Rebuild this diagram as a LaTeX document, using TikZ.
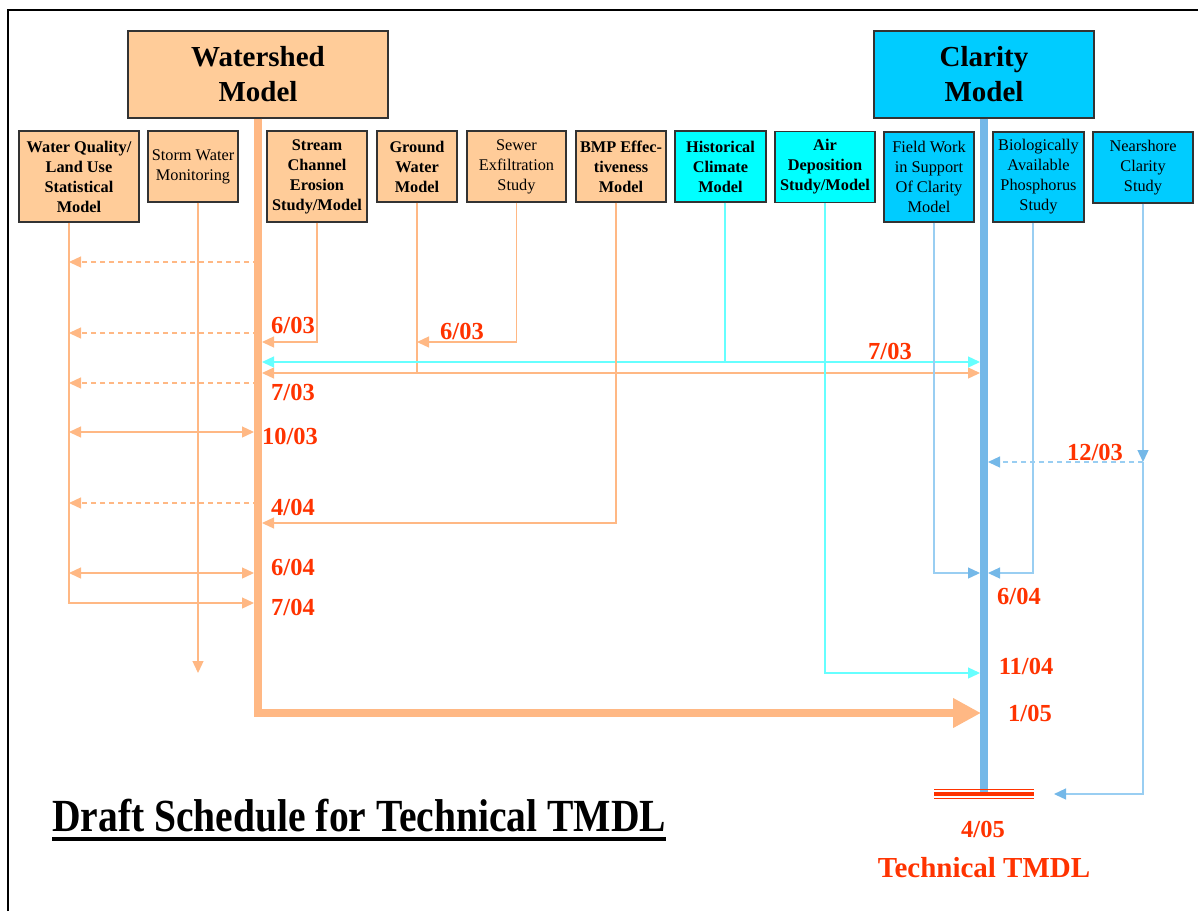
\documentclass[tikz,border=0pt]{standalone}
\usepackage{fontspec}
\setmainfont{Liberation Serif}
\newfontfamily\titlefont[FakeStretch=0.86]{Liberation Serif}
\usepackage{tikz}
\usetikzlibrary{arrows.meta}
\definecolor{peach}{RGB}{255,204,153}
\definecolor{skyblue}{RGB}{0,204,255}
\definecolor{aqua}{RGB}{0,255,255}
\definecolor{oline}{RGB}{255,184,132}
\definecolor{cline}{RGB}{102,255,255}
\definecolor{bline}{RGB}{153,206,242}
\definecolor{bbar}{RGB}{116,184,232}
\definecolor{datered}{RGB}{255,51,0}

\begin{document}
\begin{tikzpicture}[x=1pt, y=-1pt,
    every node/.style = {align=center, inner sep=0pt},
    box/.style = {draw=black!80, line width=1.3pt, font=\fontsize{16.3}{20}\selectfont},
    boldbox/.style = {box, font=\bfseries\fontsize{16.3}{20}\selectfont},
    bigbox/.style = {draw=black!80, line width=1.3pt, minimum height=87pt,
    font=\bfseries\fontsize{29}{35}\selectfont},
    peachbox/.style = {fill=peach}, cyanbox/.style = {fill=aqua},
    bluebox/.style = {fill=skyblue},
    date/.style = {text=datered, font=\bfseries\fontsize{24.5}{28}\selectfont},
    othin/.style = {draw=oline, line width=1.3pt},
    cthin/.style = {draw=cline, line width=1.3pt},
    bthin/.style = {draw=bline, line width=1.3pt},
    dashline/.style = {dash pattern=on 5pt off 4pt},
    tip/.style = {-{Triangle[length=12pt,width=11pt]}},
    btip/.style = {-{Triangle[length=12pt,width=11pt,color=bbar]}},
    dtip/.style = {{Triangle[length=12pt,width=11pt]}-{Triangle[length=12pt,width=11pt]}}]
  \useasboundingbox (0,0) rectangle (1198,911);
  \draw[line width=2.5pt] (8,911) |- (1198,10);

  \node[bigbox, peachbox, minimum width=260pt] (ws) at (258,74.5) {Watershed\\Model};
  \node[bigbox, bluebox, minimum width=220pt] (cl) at (984,74.5) {Clarity\\Model};

  \node[boldbox, peachbox, minimum width=120pt, minimum height=91pt] (wq) at (79,176.5) {Water Quality/\\Land Use\\Statistical\\Model};
  \node[box, peachbox, minimum width=90pt, minimum height=71pt] (storm) at (193,166.5) {Storm Water\\Monitoring};
  \node[boldbox, peachbox, minimum width=100pt, minimum height=91pt] (stream) at (317,176.5) {Stream\\Channel\\Erosion\\Study/Model};
  \node[boldbox, peachbox, minimum width=80pt, minimum height=71pt] (gw) at (417,166.5) {Ground\\Water\\Model};
  \node[box, peachbox, minimum width=99pt, minimum height=71pt] (sewer) at (516.5,166.5) {Sewer\\Exfiltration\\Study};
  \node[boldbox, peachbox, minimum width=90pt, minimum height=71pt] (bmp) at (621,166.5) {BMP Effec-\\tiveness\\Model};
  \node[boldbox, cyanbox, minimum width=91pt, minimum height=71pt] (hist) at (720.5,166.5) {Historical\\Climate\\Model};
  \node[boldbox, cyanbox, minimum width=100pt, minimum height=71pt] (air) at (825,167) {Air\\Deposition\\Study/Model};
  \node[box, bluebox, minimum width=90pt, minimum height=90pt] (field) at (929,177) {Field Work\\in Support\\Of Clarity\\Model};
  \node[box, bluebox, minimum width=91pt, minimum height=90pt] (bio) at (1038.5,177) {Biologically\\Available\\Phosphorus\\Study};
  \node[box, bluebox, minimum width=100pt, minimum height=71pt] (near) at (1143,167.5) {Nearshore\\Clarity\\Study};

  \coordinate (wq-out) at ([xshift=-10pt]wq.south);
  \coordinate (storm-out) at ([xshift=5pt]storm.south);
  \coordinate (bmp-out) at ([xshift=-5pt]bmp.south);
  \coordinate (hist-out) at ([xshift=4.5pt]hist.south);
  \coordinate (field-out) at ([xshift=5pt]field.south);
  \coordinate (bio-out) at ([xshift=-5.5pt]bio.south);
  \coordinate (tmdl-l) at (934,794);
  \coordinate (tmdl-r) at (1034,794);

  \foreach \y in {262,333,383,503}
    \draw[othin, dashline, tip] (ws.south |- 0,\y) -- (wq-out |- 0,\y);
  \foreach \y in {432,573}
    \draw[othin, dtip, shorten >=4pt] (wq-out |- 0,\y) -- (ws.south |- 0,\y);
  \draw[othin, tip, shorten >=4pt] (wq-out) |- (ws.south |- 0,603);
  \draw[othin, tip] (storm-out) -- (storm-out |- 0,673);
  \draw[othin, tip, shorten >=4pt] (stream.south) |- (ws.south |- 0,342);
  \draw[othin, tip] (sewer.south) |- (gw.south |- 0,342);
  \draw[othin] (gw.south) -- (gw.south |- 0,373);
  \draw[othin, dtip, shorten <=4pt, shorten >=4pt] (ws.south |- 0,373) -- (cl.south |- 0,373);
  \draw[cthin, dtip, shorten <=4pt, shorten >=4pt] (ws.south |- 0,362) -- (cl.south |- 0,362);
  \draw[cthin] (hist-out) -- (hist-out |- 0,362);
  \draw[othin, tip, shorten >=4pt] (bmp-out) |- (ws.south |- 0,523);
  \draw[cthin, tip, shorten >=4pt] (air.south) |- (cl.south |- 0,673);
  \draw[bthin, btip, shorten >=4pt] (field-out) |- (cl.south |- 0,573);
  \draw[bthin, btip, shorten >=4pt] (bio-out) |- (cl.south |- 0,573);
  \draw[bthin, btip] (near.south) -- (near.south |- 0,462);
  \draw[bthin, dashline, btip, shorten >=4pt] (near.south |- 0,462) -- (cl.south |- 0,462);
  \draw[bthin, btip] (near.south |- 0,462) |- ([xshift=20pt]tmdl-r);

  \draw[oline, line width=7.5pt, -{Triangle[length=28pt,width=28pt]}, shorten >=3pt]
    (ws.south) |- (cl.south |- 0,713);
  \draw[bbar, line width=8pt] (cl.south) -- (cl.south |- 0,792);
  \draw[datered, line width=4pt] (tmdl-l) -- (tmdl-r);
  \draw[datered, line width=1.2pt] ([yshift=4.5pt]tmdl-l) -- ([yshift=4.5pt]tmdl-r);
  \draw[datered, line width=1.2pt] ([yshift=-4.5pt]tmdl-l) -- ([yshift=-4.5pt]tmdl-r);

  \node[date] (d603a) at (293,325) {6/03};
  \node[date] (d603b) at (462,331) {6/03};
  \node[date] (d703a) at (890,351) {7/03};
  \node[date] (d703b) at (293,392) {7/03};
  \node[date] (d1003) at (290,436) {10/03};
  \node[date] (d1203) at (1095,452) {12/03};
  \node[date] (d404) at (293,507) {4/04};
  \node[date] (d604a) at (293,567) {6/04};
  \node[date] (d704) at (293,607) {7/04};
  \node[date] (d604b) at (1019,596) {6/04};
  \node[date] (d1104) at (1026,666) {11/04};
  \node[date] (d105) at (1030,713) {1/05};
  \node[date, anchor=base] (d405) at (983,837) {4/05};
  \node[date, font=\bfseries\fontsize{29}{32}\selectfont, anchor=base] (tech) at (984,877) {Technical TMDL};

  \node[font=\titlefont\bfseries\fontsize{46}{50}\selectfont, anchor=base west] (title) at (52,831) {Draft Schedule for Technical TMDL};
  \draw[line width=4.5pt] ([yshift=-8pt]title.base west) -- ([yshift=-8pt]title.base east);
\end{tikzpicture}
\end{document}
